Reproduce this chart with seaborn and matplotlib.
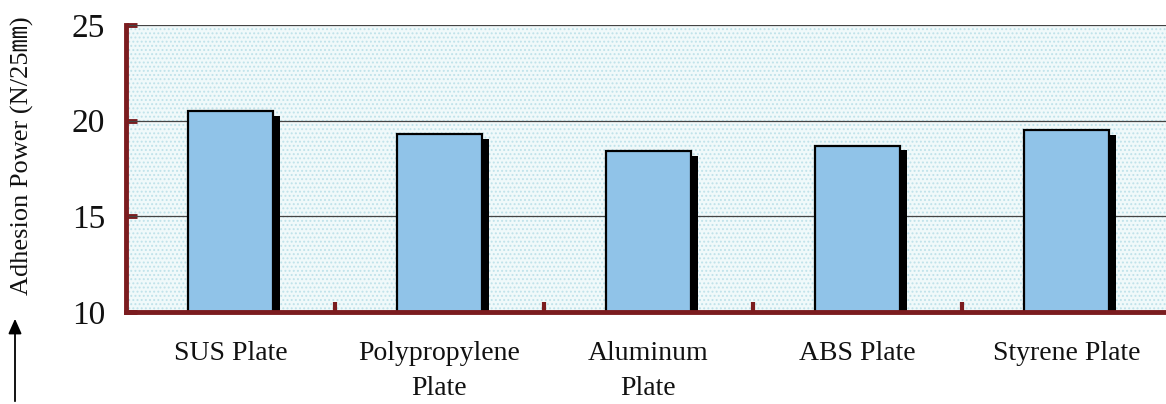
import matplotlib
matplotlib.use("Agg")
import matplotlib.pyplot as plt
import seaborn as sns
import pandas as pd

# Adhesion power per adherend (N/25mm)
categories = ["SUS Plate", "Polypropylene\nPlate", "Aluminum\nPlate", "ABS Plate", "Styrene Plate"]
adhesion = [20.5, 19.3, 18.4, 18.7, 19.5]
y_ticks = [10, 15, 20, 25]

sns.set_theme(style="white")
plt.rcParams["font.family"] = ["Liberation Serif", "Noto Sans CJK JP", "DejaVu Sans"]
plt.rcParams["hatch.linewidth"] = 0.9

df = pd.DataFrame({"material": categories, "adhesion": adhesion})

W, H = 1166, 404
fig = plt.figure(figsize=(W / 100, H / 100), dpi=100)
ax = fig.add_axes([126 / W, 1 - 312 / H, 1 - 126 / W, (312 - 25) / H])

maroon = "#7b1c1f"
bar_fill = "#90c3e8"

# dotted pale-blue plot area
ax.patch.set_facecolor("#f0f9fa")
ax.patch.set_hatch("....")
ax.patch.set_edgecolor("#bfe2ea")
ax.patch.set_linewidth(0)

sns.barplot(data=df, x="material", y="adhesion", ax=ax, color=bar_fill,
            width=0.41, saturation=1, edgecolor="black", linewidth=1.6, zorder=3)

# drop shadow on the right side of each bar
xs = list(range(len(categories)))
ax.bar([x + 0.03 for x in xs], [v - 0.25 for v in adhesion], width=0.41,
       color="black", linewidth=0, zorder=2)

ax.set_ylim(10, 25)
ax.set_xlim(-0.5, -0.5 + (W - 126) / 209)
ax.set_yticks(y_ticks)
ax.set_yticklabels([str(t) for t in y_ticks], fontsize=24, color="#111111")
ax.set_xlabel("")
ax.set_ylabel("")

for t in [15, 20, 25]:
    ax.axhline(t, color="#444444", linewidth=0.9, zorder=1)

for s in ["top", "right"]:
    ax.spines[s].set_visible(False)
for s in ["left", "bottom"]:
    ax.spines[s].set_color(maroon)
    ax.spines[s].set_linewidth(3.5)
    ax.spines[s].set_zorder(4)

ax.tick_params(axis="y", direction="in", length=8, width=3.5, color=maroon,
               pad=15, left=True)
ax.set_xticks(xs)
ax.set_xticklabels(categories, fontsize=20, linespacing=1.5, color="#111111")
ax.tick_params(axis="x", which="major", length=0, pad=21)
ax.set_xticks([0.5, 1.5, 2.5, 3.5], minor=True)
ax.tick_params(axis="x", which="minor", direction="in", length=7, width=3,
               color=maroon, bottom=True)

# rotated axis title with upward arrow
fig.text(22 / W, 1 - 156 / H, "Adhesion Power (N/25㎜)", rotation=90,
         ha="center", va="center", fontsize=19, color="#111111",
         family=["Liberation Serif", "Noto Sans CJK JP"])
fig.add_artist(matplotlib.patches.FancyArrowPatch(
    (15 / W, 1 - 404 / H), (15 / W, 1 - 316 / H), transform=fig.transFigure,
    arrowstyle="-|>,head_length=9,head_width=4", color="black", linewidth=1.3))

fig.savefig("out.png", dpi=100)
